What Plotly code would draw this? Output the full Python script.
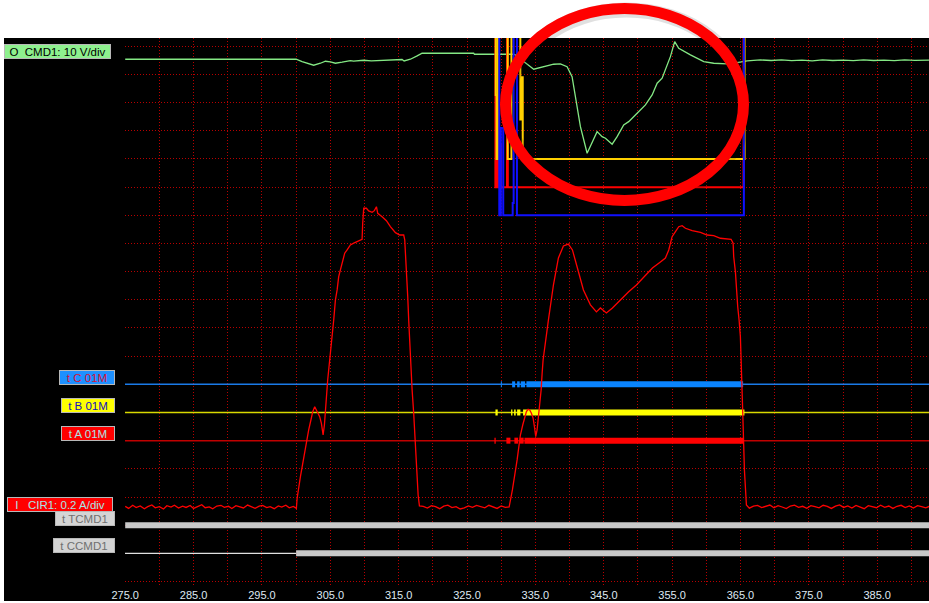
import plotly.graph_objects as go

# ---------------- axes / scale ----------------
X_LABEL_VALUES = [275, 285, 295, 305, 315, 325, 335, 345, 355, 365, 375, 385]
X_LABEL_TEXT = ["275.0", "285.0", "295.0", "305.0", "315.0", "325.0",
                "335.0", "345.0", "355.0", "365.0", "375.0", "385.0"]
X_GRID_VALUES = [280, 285, 290, 295, 300, 305, 310, 315, 320, 325, 330, 335, 340,
                 345, 350, 355, 360, 365, 370, 375, 380, 385, 390]
Y_GRID_DIVS = list(range(0, 20))
X_RANGE = [274.97, 392.58]
Y_RANGE_DIV = [-0.124, 19.294]

# ---------------- channel scales (oscilloscope style) ----------------
CMD1_V_PER_DIV = 10.0
CMD1_OFFSET_DIV = 18.54
CIR1_A_PER_DIV = 0.2
CIR1_OFFSET_DIV = 2.645
HIGH = 20.5  # analog level above the screen

# ---------------- CMD1 voltage (time, volts) ----------------
CMD1_T = [275.0, 300.0, 300.88, 301.84, 302.57, 303.56, 304.29, 305.02, 305.75, 306.73,
          307.94, 308.4, 309.41, 309.89, 311.0, 312.81, 314.77, 315.5, 315.8, 316.24,
          316.72, 317.70, 318.43, 325.98, 326.08, 329.15, 331.83, 332.56, 333.30, 334.76,
          336.22, 337.68, 338.66, 339.64, 340.37, 340.86, 341.59, 342.57, 343.30, 344.03,
          344.76, 345.25, 346.23, 346.96, 347.92, 348.65, 349.88, 351.10, 352.08, 352.81,
          353.54, 354.02, 354.75, 355.38, 355.97, 357.68, 359.63, 361.09, 363.05, 364.01,
          365.48, 365.97, 367.92, 369.5, 371.0, 372.5, 374.0, 375.5, 377.0, 378.5,
          380.0, 381.5, 383.0, 384.5, 386.0, 387.5, 389.0, 390.5, 392.6]
CMD1_V = [0.0, 0.0, -0.85, -1.67, -2.13, -1.42, -0.71, -0.96, -1.42, -1.06,
          -0.5, -0.7, -0.6, -0.35, -0.55, -0.35, -0.35, -0.1, -0.6, -0.35,
          0.0, 1.17, 2.13, 2.13, 1.77, 1.77, 1.77, 0.92, -0.85, -3.55,
          -2.63, -1.77, -1.67, -2.63, -6.18, -13.28, -23.93, -33.37, -29.82, -25.70,
          -27.48, -28.04, -30.17, -27.48, -23.32, -22.15, -19.17, -16.22, -12.67, -8.52,
          -6.74, -3.80, 0.92, 6.25, 3.90, 1.53, -0.85, -1.42, -1.67, -1.42,
          -0.85, -0.6, -0.25, -0.45, -0.2, -0.5, -0.3, -0.55, -0.25, -0.45,
          -0.3, -0.5, -0.2, -0.45, -0.3, -0.5, -0.25, -0.4, -0.3]

# ---------------- CIR1 current (time, amps) ----------------
CIR1_T = [275.0, 275.5, 276.1, 276.6, 277.2, 277.8, 278.3, 278.9, 279.4, 280.0,
          280.6, 281.1, 281.7, 282.2, 282.8, 283.4, 283.9, 284.5, 285.0, 285.6,
          286.2, 286.7, 287.3, 287.8, 288.4, 289.0, 289.5, 290.1, 290.6, 291.2,
          291.8, 292.3, 292.9, 293.4, 294.0, 294.6, 295.1, 295.7, 296.2, 296.8,
          297.4, 297.9, 298.5, 299.0, 299.6, 300.04,
          300.15, 300.63, 300.88, 301.21, 301.51, 301.84, 302.19, 302.43, 302.72, 303.07,
          303.45, 303.70, 303.95, 304.14, 304.29, 304.43, 304.62, 305.50, 305.60, 305.75,
          306.00, 306.23, 306.48, 306.82, 307.11, 307.46, 307.94, 308.43, 308.92, 309.41,
          309.65, 309.74, 309.89, 310.28, 310.62, 311.12, 311.45, 311.75, 311.94, 312.58,
          313.21, 313.79, 314.53, 315.16, 315.74, 315.89, 316.03, 316.14, 316.33, 316.47,
          316.82, 316.97, 317.20, 317.35, 317.50, 317.70, 317.85, 318.04,
          318.6, 319.2, 319.8, 320.4, 321.0, 321.6, 322.2, 322.8, 323.4, 324.0,
          324.6, 325.2, 325.8, 326.4, 327.0, 327.6, 328.2, 328.8, 329.4, 330.0,
          330.6, 331.16,
          331.64, 332.33, 332.56, 332.81, 333.15, 333.40, 333.69, 333.94, 334.17, 334.42,
          334.67, 334.86, 335.05, 335.25, 335.49, 335.64, 335.84, 335.99, 336.13, 336.91,
          337.64, 338.37, 339.10, 339.83, 340.42, 341.15, 342.03, 343.05, 343.93, 344.51,
          345.39, 346.27, 347.44, 348.61, 349.78, 351.10, 352.12, 353.29, 354.02, 354.51,
          355.00, 355.49, 355.97, 356.47, 356.95, 357.93, 359.15, 360.12, 361.09, 362.07,
          363.05, 363.63, 363.93, 364.01, 364.26, 364.41, 364.60, 364.80, 364.99, 365.28,
          365.58, 365.87,
          366.3, 366.9, 367.5, 368.1, 368.7, 369.3, 369.9, 370.5, 371.1, 371.7,
          372.3, 372.9, 373.5, 374.1, 374.7, 375.3, 375.9, 376.5, 377.1, 377.7,
          378.3, 378.9, 379.5, 380.1, 380.7, 381.3, 381.9, 382.5, 383.1, 383.7,
          384.3, 384.9, 385.5, 386.1, 386.7, 387.3, 387.9, 388.5, 389.1, 389.7,
          390.3, 390.9, 391.5, 392.1, 392.6]
CIR1_A = [0.005, -0.010, 0.012, -0.004, 0.008, -0.012, 0.003, 0.015, -0.006, 0.002,
          -0.014, 0.009, 0.000, 0.013, -0.008, 0.006, -0.003, 0.011, -0.010, 0.004,
          0.016, -0.005, 0.001, -0.013, 0.007, 0.012, -0.002, 0.005, -0.011, 0.009,
          0.000, -0.007, 0.014, 0.003, -0.009, 0.006, 0.011, -0.004, 0.002, -0.012,
          0.008, -0.001, 0.013, -0.006, 0.004, -0.010,
          0.062, 0.215, 0.286, 0.381, 0.476, 0.547, 0.623, 0.677, 0.712, 0.677,
          0.641, 0.594, 0.511, 0.582, 0.701, 0.807, 0.902, 1.328, 1.387, 1.470,
          1.541, 1.635, 1.683, 1.742, 1.802, 1.825, 1.861, 1.873, 1.884, 1.896,
          1.901, 2.014, 2.121, 2.121, 2.102, 2.092, 2.104, 2.132, 2.085, 2.061,
          2.033, 1.990, 1.948, 1.931, 1.931, 1.896, 1.789, 1.659, 1.493, 1.328,
          0.902, 0.831, 0.665, 0.523, 0.369, 0.215, 0.085, 0.007,
          0.004, -0.008, 0.010, 0.002, -0.012, 0.006, 0.013, -0.004, 0.003, -0.014,
          -0.006, 0.008, -0.002, 0.011, 0.004, -0.006, 0.012, 0.002, -0.010, 0.007,
          -0.003, 0.000,
          0.121, 0.334, 0.417, 0.511, 0.582, 0.630, 0.677, 0.694, 0.689, 0.665,
          0.630, 0.570, 0.499, 0.547, 0.653, 0.748, 0.831, 0.949, 1.044, 1.328,
          1.576, 1.768, 1.853, 1.867, 1.825, 1.697, 1.541, 1.435, 1.385, 1.413,
          1.378, 1.413, 1.470, 1.527, 1.576, 1.647, 1.697, 1.740, 1.767, 1.825,
          1.919, 1.955, 1.990, 1.997, 1.979, 1.962, 1.950, 1.931, 1.926, 1.908,
          1.903, 1.901, 1.873, 1.778, 1.671, 1.541, 1.422, 1.328, 1.209, 0.760,
          0.263, 0.014,
          -0.008, 0.006, 0.012, -0.004, 0.003, 0.014, -0.006, 0.009, 0.000, -0.011,
          0.007, 0.013, -0.002, 0.005, -0.009, 0.010, 0.002, -0.006, 0.012, 0.004,
          -0.010, 0.006, 0.015, -0.003, 0.008, -0.007, 0.011, 0.001, -0.012, 0.009,
          0.004, -0.005, 0.013, -0.002, 0.007, -0.010, 0.005, 0.012, -0.004, 0.008,
          -0.008, 0.010, 0.002, -0.006, 0.004]

# ---------------- analog C / B / A (time, level in div), step traces ----------------
C_AN_T = [275.0, 329.72, 329.95, 330.30, 331.68, 331.82, 332.30, 365.50, 392.6]
C_AN_DIV = [HIGH, 13.0, 16.1, 13.0, 13.44, HIGH, 13.0, HIGH, HIGH]
B_AN_T = [275.0, 329.20, 329.32, 329.50, 330.95, 331.50, 332.80, 332.95, 333.15, 365.60, 392.6]
B_AN_DIV = [HIGH, 17.27, 15.0, HIGH, 15.0, HIGH, 16.4, 17.9, 15.0, HIGH, HIGH]
A_AN_T = [275.0, 329.15, 329.40, 329.52, 329.80, 329.95, 330.85, 330.97, 365.45, 392.6]
A_AN_DIV = [HIGH, 14.0, 16.9, 14.0, 15.5, 14.0, HIGH, 14.0, HIGH, HIGH]

# ---------------- digital tracks (level in div, "on" intervals) ----------------
C_LEVEL, B_LEVEL, A_LEVEL, T_LEVEL, CC_LEVEL = 7, 6, 5, 2, 1
C_ON = [(329.95, 330.10), (331.60, 332.04), (332.33, 332.71), (332.86, 333.50), (333.69, 365.39)]
B_ON = [(329.16, 329.49), (331.45, 331.64), (331.89, 332.12), (332.33, 332.81), (333.20, 365.58)]
A_ON = [(329.01, 329.20), (330.76, 331.35), (331.93, 332.48), (332.71, 333.29), (333.40, 365.39)]
TCMD1_ON = [(275.0, 392.6)]
CCMD1_ON = [(300.0, 392.6)]

GRID = "#b80000"
GRID_DASH = "1px,2px"
fig = go.Figure()


def seg_xy(intervals, level):
    xs, ys = [], []
    for a, b in intervals:
        xs += [a, b, None]
        ys += [level, level, None]
    return xs, ys


# invisible carrier for the grid axis
fig.add_trace(go.Scatter(x=X_RANGE, y=Y_RANGE_DIV, xaxis="x2", mode="none", hoverinfo="skip"))

# CMD1 (green)
fig.add_trace(go.Scatter(x=CMD1_T, y=[CMD1_OFFSET_DIV + v / CMD1_V_PER_DIV for v in CMD1_V],
                         mode="lines", line=dict(color="#84e884", width=1.3)))

# analog spikes
for t, d, col in [(A_AN_T, A_AN_DIV, "#ff0000"), (B_AN_T, B_AN_DIV, "#ffd000"),
                  (C_AN_T, C_AN_DIV, "#1010ff")]:
    fig.add_trace(go.Scatter(x=t, y=d, mode="lines", line=dict(color=col, width=2, shape="hv")))

# digital thin base lines
for lvl, col in [(C_LEVEL, "#1a7ae8"), (B_LEVEL, "#d8d800"), (A_LEVEL, "#c00000")]:
    fig.add_trace(go.Scatter(x=X_RANGE, y=[lvl, lvl], mode="lines", line=dict(color=col, width=1.5)))
fig.add_trace(go.Scatter(x=[X_RANGE[0], 300.0], y=[CC_LEVEL, CC_LEVEL], mode="lines",
                         line=dict(color="#e0e0e0", width=1.2)))

# digital thick "on" segments
for ivals, lvl, col in [(C_ON, C_LEVEL, "#0a84ff"), (B_ON, B_LEVEL, "#ffff00"),
                        (A_ON, A_LEVEL, "#ff0000"), (TCMD1_ON, T_LEVEL, "#c8c8c8"),
                        (CCMD1_ON, CC_LEVEL, "#c8c8c8")]:
    xs, ys = seg_xy(ivals, lvl)
    fig.add_trace(go.Scatter(x=xs, y=ys, mode="lines", line=dict(color=col, width=6)))

# CIR1 (red current)
fig.add_trace(go.Scatter(x=CIR1_T, y=[CIR1_OFFSET_DIV + a / CIR1_A_PER_DIV for a in CIR1_A],
                         mode="lines", line=dict(color="#ff0000", width=1.3)))

L, T, PW, PH = 125, 38, 804, 547


def px(xp):
    return (xp - L) / PW


def py(yp):
    return 1 - (yp - T) / PH


shapes = [
    dict(type="rect", xref="paper", yref="paper", x0=px(4), x1=1.0, y0=py(601), y1=1.0,
         fillcolor="#000000", line=dict(width=0), layer="below"),
    dict(type="circle", xref="paper", yref="paper", x0=px(507), x1=px(746), y0=py(202), y1=py(10),
         line=dict(color="rgba(0,0,0,0.12)", width=15), layer="above"),
    dict(type="circle", xref="paper", yref="paper", x0=px(505.5), x1=px(743.5), y0=py(200.5), y1=py(8.5),
         line=dict(color="#ff0000", width=11), layer="above"),
]

tags = [
    ("O  CMD1: 10 V/div", 57.5, 51.5, 105, "#000000", "#8ef08e"),
    ("t C 01M", 87, 377, 54, "#d8103a", "#1e90ff"),
    ("t B 01M", 88, 405, 52, "#1010c0", "#ffff00"),
    ("t A 01M", 88, 433.5, 52, "#a8e4e4", "#ff0000"),
    ("I   CIR1: 0.2 A/div", 60, 504.5, 104, "#a8e4e4", "#ff0000"),
    ("t TCMD1", 85, 518.5, 58, "#707070", "#d4d4d4"),
    ("t CCMD1", 84, 545, 60, "#707070", "#d4d4d4"),
]
annotations = []
for text, cx, cy, w, fc, bg in tags:
    annotations.append(dict(text=text, xref="paper", yref="paper", x=px(cx), y=py(cy),
                            xanchor="center", yanchor="middle", showarrow=False,
                            width=w, height=13, bgcolor=bg, bordercolor="#b8b8b8",
                            borderwidth=1, borderpad=0,
                            font=dict(family="Liberation Sans, Arial", size=11.5, color=fc)))

fig.update_layout(
    width=929, height=603, autosize=False,
    margin=dict(l=L, r=0, t=T, b=603 - T - PH, pad=0),
    paper_bgcolor="#ffffff", plot_bgcolor="#000000",
    showlegend=False, shapes=shapes, annotations=annotations,
    xaxis=dict(range=X_RANGE, tickmode="array", tickvals=X_LABEL_VALUES, ticktext=X_LABEL_TEXT,
               showgrid=False, zeroline=False, showline=False, ticks="", ticklabelstandoff=2,
               tickfont=dict(family="Liberation Sans, Arial", size=11, color="#dfe8f2")),
    xaxis2=dict(overlaying="x", matches="x", anchor="y", side="bottom", tickmode="array",
                tickvals=X_GRID_VALUES, showticklabels=False, ticks="", showgrid=True,
                gridcolor=GRID, griddash=GRID_DASH, gridwidth=1, zeroline=False, showline=False),
    yaxis=dict(range=Y_RANGE_DIV, tickmode="array", tickvals=Y_GRID_DIVS, showticklabels=False,
               ticks="", showgrid=True, gridcolor=GRID, griddash=GRID_DASH, gridwidth=1,
               zeroline=False, showline=False),
)

fig.write_html("out.html", config={"displayModeBar": False},
               post_script="document.body.style.margin='0px';document.body.style.overflow='hidden';")
